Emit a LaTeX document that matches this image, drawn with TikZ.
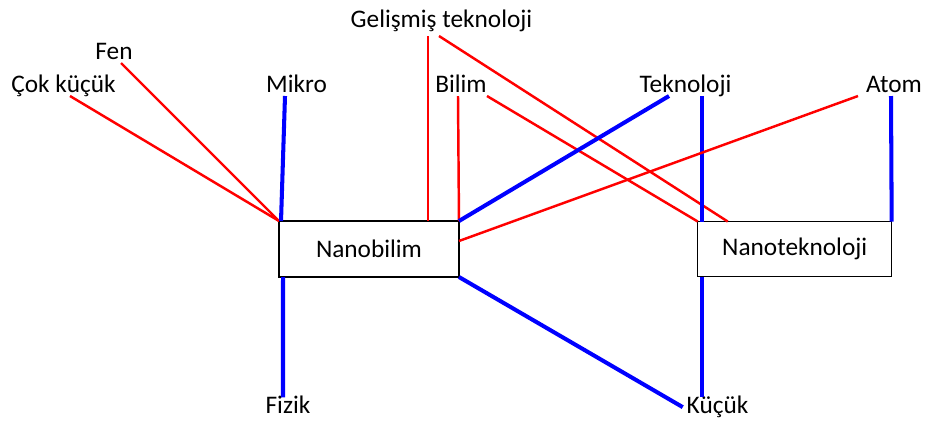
\documentclass[tikz,border=0pt]{standalone}
\usepackage{fontspec}
\setmainfont{Carlito}
\usepackage{tikz}
\usetikzlibrary{positioning}

\begin{document}
\begin{tikzpicture}[x=0.02cm,y=-0.02cm,
		lbl/.style={font=\fontsize{14.4}{17}\selectfont, inner sep=0.08cm, outer sep=0pt, text height=1.4ex, text depth=0pt, anchor=base},
		kutu/.style={draw, line width=0.85pt, font=\fontsize{14.4}{17}\selectfont, inner sep=0pt, outer sep=0pt},
		kirmizi/.style={red, line width=1.4pt},
		mavi/.style={blue, line width=2.3pt}]
		\useasboundingbox (0,0) rectangle (926,424);
		\node[kutu, minimum width=3.6cm, minimum height=1.12cm] (nb) at (369,249) {Nanobilim};
		\node[kutu, minimum width=3.88cm, minimum height=1.1cm] (nt) at (794.7,249) {Nanoteknoloji};
		\node[lbl] (cok) at (63.5,92) {Çok küçük};
		\node[lbl] (fen) at (114,59) {Fen};
		\node[lbl] (mikro) at (296.5,92) {Mikro};
		\node[lbl] (gel) at (441.5,27) {Gelişmiş teknoloji};
		\node[lbl] (bilim) at (461,92) {Bilim};
		\node[lbl] (tek) at (685.5,92) {Teknoloji};
		\node[lbl] (atom) at (894,92) {Atom};
		\node[lbl] (fizik) at (288,413) {Fizik};
		\node[lbl] (kucuk) at (717.5,413) {Küçük};
		\draw[kirmizi] ([xshift=0.13cm]cok.south) -- (nb.north west);
		\draw[kirmizi] ([xshift=0.14cm]fen.south) -- (nb.north west);
		\draw[mavi] ([xshift=-0.23cm]mikro.south) -- ([xshift=0.04cm]nb.north west);
		\draw[mavi] ([xshift=0.08cm]nb.south west) -- ([xshift=-0.1cm]fizik.north);
		\draw[kirmizi] ([xshift=-0.27cm,yshift=-0.1cm]gel.south) -- ([xshift=-0.27cm]gel.south |- nb.north);
		\draw[kirmizi] ([xshift=-0.05cm,yshift=-0.1cm]gel.south) -- ([xshift=0.6cm]nt.north west);
		\draw[kirmizi] ([xshift=-0.06cm]bilim.south) -- (nb.north east);
		\draw[kirmizi] ([xshift=0.52cm]bilim.south) -- (nt.north west);
		\draw[mavi] ([xshift=-0.33cm]tek.south) -- (nb.north east);
		\draw[mavi] ([xshift=0.33cm]tek.south) -- ([xshift=0.33cm]tek.south |- nt.north);
		\draw[kirmizi] ([xshift=-0.72cm]atom.south) -- ([yshift=0.16cm]nb.east);
		\draw[mavi] ([xshift=-0.06cm]atom.south) -- (nt.north east);
		\draw[mavi] (nb.south east) -- (kucuk.west);
		\draw[mavi] ([xshift=-0.31cm]kucuk.north |- nt.south) -- ([xshift=-0.31cm]kucuk.north);
	\end{tikzpicture}
\end{document}
